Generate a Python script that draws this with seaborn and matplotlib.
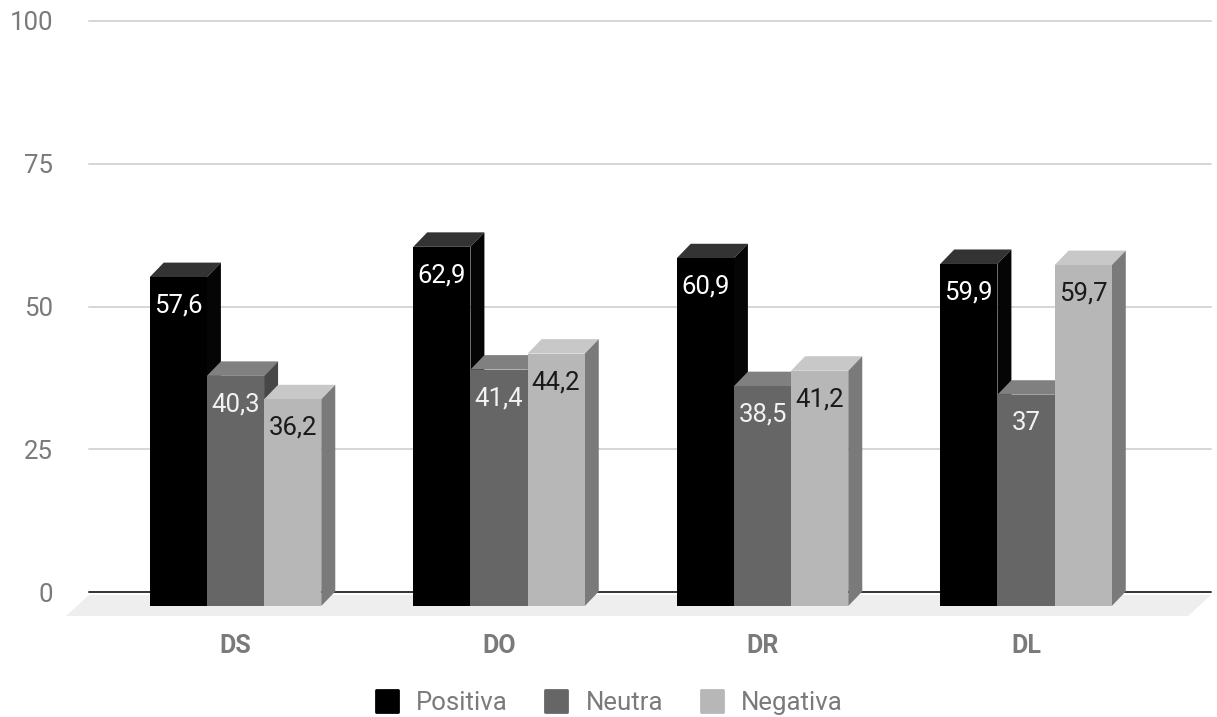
import matplotlib
matplotlib.use("Agg")
import matplotlib.pyplot as plt
import pandas as pd
import seaborn as sns
from matplotlib.lines import Line2D
from matplotlib.markers import MarkerStyle
from matplotlib.patches import Polygon

# Survey results by dimension
categorias = ["DS", "DO", "DR", "DL"]
positiva = [57.6, 62.9, 60.9, 59.9]
neutra = [40.3, 41.4, 38.5, 37.0]
negativa = [36.2, 44.2, 41.2, 59.7]
series = ["Positiva", "Neutra", "Negativa"]
y_ticks = [0, 25, 50, 75, 100]

# Face shades per series: front, top, right side, value label
front_colors = ["#000000", "#666666", "#b7b7b7"]
top_colors = ["#333333", "#808080", "#c8c8c8"]
side_colors = ["#050505", "#474747", "#7a7a7a"]
label_colors = ["#ffffff", "#f2f2f2", "#1a1a1a"]

TEXT_GREY = "#7a7a7a"
W, H = 1217, 717
DEPTH_X, DEPTH_Y = 14, 14.5  # extrusion of the bars, in pixels

sns.set_theme(style="white")
plt.rcParams["font.family"] = ["Roboto", "DejaVu Sans"]

df = pd.DataFrame({
    "categoria": categorias * 3,
    "serie": [s for s in series for _ in categorias],
    "valor": positiva + neutra + negativa,
})

fig = plt.figure(figsize=(W / 100, H / 100), dpi=100, facecolor="white")


def axes_rect(left, top, right, bottom):
    return [left / W, 1 - bottom / H, (right - left) / W, (bottom - top) / H]


# Back wall: gridlines and value axis
ax_back = fig.add_axes(axes_rect(89, 21, 1211, 592), zorder=1)
ax_back.set_xlim(0, 1)
ax_back.set_ylim(0, 100)
ax_back.set_xticks([])
ax_back.set_yticks(y_ticks)
ax_back.tick_params(axis="y", length=0, pad=26, labelsize=18.5, labelcolor=TEXT_GREY)
for spine in ax_back.spines.values():
    spine.set_visible(False)
ax_back.set_facecolor("none")
for tick in y_ticks:
    is_base = tick == 0
    ax_back.axhline(tick, color="#333333" if is_base else "#d6d6d6",
                    lw=1.4, zorder=2 if is_base else 1, clip_on=False)

# Floor of the 3D scene
floor = Polygon(
    [(89 / W, 1 - 595 / H), (1211 / W, 1 - 595 / H),
     (1188 / W, 1 - 616 / H), (66 / W, 1 - 616 / H)],
    closed=True, transform=fig.transFigure, facecolor="#eeeeee",
    edgecolor="none", zorder=0.5,
)
fig.add_artist(floor)

# Front plane: the bars themselves
ax = fig.add_axes(axes_rect(75, 35, 1197, 606), zorder=2)
ax.set_facecolor("none")
sns.barplot(
    data=df, x="categoria", y="valor", hue="serie", order=categorias,
    hue_order=series, palette=front_colors, saturation=1, width=0.651, gap=0,
    legend=False, errorbar=None, ax=ax,
)
GROUP_STEP = 263.5
ax.set_xlim((75 - 235.5) / GROUP_STEP, (1197 - 235.5) / GROUP_STEP)
ax.set_ylim(0, 100)
ax.set_xlabel("")
ax.set_ylabel("")
ax.set_yticks([])
ax.tick_params(axis="x", length=0, pad=20)
for label in ax.get_xticklabels():
    label.set_fontweight("bold")
    label.set_fontsize(18)
    label.set_color(TEXT_GREY)
for spine in ax.spines.values():
    spine.set_visible(False)

depth_dx = DEPTH_X / GROUP_STEP
depth_dy = DEPTH_Y / (571 / 100)

for s_idx, container in enumerate(ax.containers):
    z = 3 + s_idx
    for bar in container:
        x0, x1 = bar.get_x(), bar.get_x() + bar.get_width()
        y1 = bar.get_height()
        bar.set_zorder(z + 0.5)
        bar.set_edgecolor("none")
        ax.add_patch(Polygon(
            [(x0, y1), (x1, y1), (x1 + depth_dx, y1 + depth_dy), (x0 + depth_dx, y1 + depth_dy)],
            closed=True, facecolor=top_colors[s_idx], edgecolor="none", zorder=z,
        ))
        ax.add_patch(Polygon(
            [(x1, 0), (x1 + depth_dx, depth_dy), (x1 + depth_dx, y1 + depth_dy), (x1, y1)],
            closed=True, facecolor=side_colors[s_idx], edgecolor="none", zorder=z,
        ))
        ax.annotate(
            f"{y1:g}".replace(".", ","),
            xy=((x0 + x1) / 2, y1), xytext=(0, -20.5), textcoords="offset points",
            ha="center", va="center", fontsize=18.5, color=label_colors[s_idx], zorder=10,
        )

# Legend along the bottom edge
handles = [
    Line2D([], [], linestyle="none", marker=MarkerStyle("s", joinstyle="round"),
           markersize=16.5, markerfacecolor=c, markeredgecolor=c, markeredgewidth=2)
    for c in front_colors
]
fig.legend(
    handles, series, ncol=3, loc="center", bbox_to_anchor=(608.5 / W, 1 - 703 / H),
    frameon=False, fontsize=18.5, labelcolor=TEXT_GREY, handlelength=0.97,
    handletextpad=0.66, columnspacing=1.4, borderpad=0, borderaxespad=0,
)

fig.savefig("out.png", dpi=100, facecolor="white")
